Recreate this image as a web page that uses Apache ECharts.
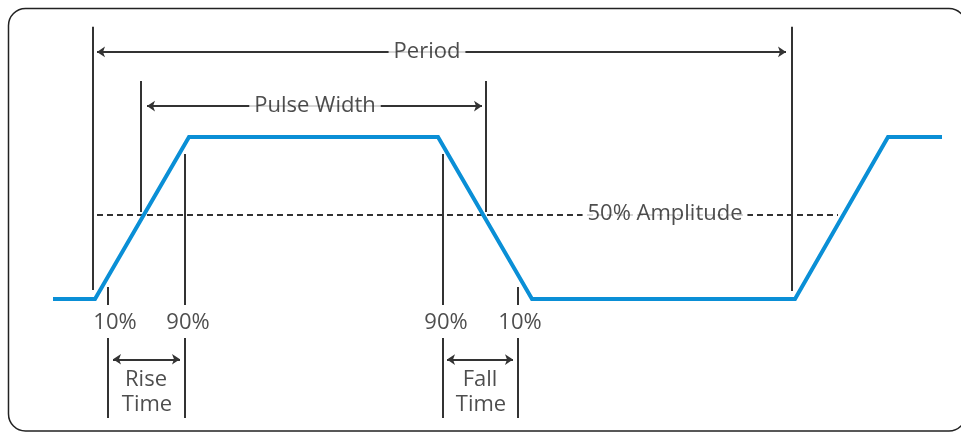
<!DOCTYPE html>
<html>
<head>
<meta charset="utf-8">
<script src="https://cdn.jsdelivr.net/npm/echarts@6/dist/echarts.min.js"></script>
<style>
html,body{margin:0;padding:0;background:#fff;}
#chart{width:961px;height:432px;}
</style>
</head>
<body>
<div id="chart"></div>
<script>
// Waveform: time (x) vs amplitude in % (y)
const waveTime  = [53, 95, 189, 438, 532, 795, 888, 942];
const waveLevel = [0, 0, 100, 100, 0, 0, 100, 100];

// Vertical marker segments
const markerX      = [93, 792, 141, 486, 108, 185, 443, 518, 108, 185, 443, 518];
const markerTop    = [168, 168, 134.6, 134.6, 7.4, 89.5, 89.5, 7.4, -24, -24, -24, -24];
const markerBottom = [5.5, 5, 53.7, 53.7, -3.7, -3.7, -3.7, -3.7, -73.5, -73.5, -73.5, -73.5];

// Double-headed dimension arrows
const arrowStart = [97, 147, 113, 447];
const arrowEnd   = [786, 482, 180, 513];
const arrowLevel = [152.5, 119.1, -37.2, -37.4];

// 50% amplitude reference (dashed)
const refStart = 97;
const refEnd = 838;
const refLevel = 51.9;

// Labels sitting on lines
const lineLabelText = ['Period', 'Pulse Width', '50% Amplitude'];
const lineLabelX    = [427, 315, 665];
const lineLabelY    = [152.5, 119.1, 52.5];

// Free labels
const labelText = ['10%', '90%', '90%', '10%', 'Rise', 'Time', 'Fall', 'Time'];
const labelX    = [115, 188, 446, 520, 146, 147, 480, 481];
const labelY    = [-14.5, -14.5, -14.5, -14.5, -49.8, -65.3, -50, -65.3];

const ink = '#333333';
const textInk = '#222222';
const font = '"Open Sans", "Noto Sans", sans-serif';

const chart = echarts.init(document.getElementById('chart'), null, {renderer: 'canvas'});

const markerData = markerX.map((x, i) => ({coords: [[x, markerTop[i]], [x, markerBottom[i]]]}));
const arrowData = arrowStart.map((x, i) => ({coords: [[x, arrowLevel[i]], [arrowEnd[i], arrowLevel[i]]]}));

chart.setOption({
  animation: false,
  backgroundColor: '#ffffff',
  grid: {left: 0, right: 0, top: 7.4, bottom: 3.4, containLabel: false},
  xAxis: {type: 'value', min: 0, max: 961, show: false},
  yAxis: {type: 'value', min: -80, max: 180, show: false},
  graphic: [{
    type: 'rect', z: 0, silent: true,
    shape: {x: 8.5, y: 8.5, width: 957.5, height: 422.5, r: 17},
    style: {fill: 'none', stroke: '#222222', lineWidth: 1.5}
  }],
  series: [
    {
      type: 'lines', coordinateSystem: 'cartesian2d', z: 2, silent: true,
      symbol: 'none',
      lineStyle: {color: ink, width: 2, opacity: 1, type: [6, 4]},
      data: [{coords: [[refStart, refLevel], [refEnd, refLevel]]}]
    },
    {
      type: 'lines', coordinateSystem: 'cartesian2d', z: 3, silent: true,
      symbol: 'none',
      lineStyle: {color: ink, width: 2, opacity: 1},
      data: markerData
    },
    {
      type: 'lines', coordinateSystem: 'cartesian2d', z: 3, silent: true,
      symbol: ['arrow', 'arrow'], symbolSize: 8,
      lineStyle: {color: ink, width: 2, opacity: 1},
      data: arrowData
    },
    {
      type: 'line', z: 4, silent: true,
      data: waveTime.map((t, i) => [t, waveLevel[i]]),
      symbol: 'none',
      lineStyle: {color: '#0a8fd6', width: 4, join: 'miter'}
    },
    {
      type: 'scatter', z: 6, silent: true, symbolSize: 0,
      data: lineLabelText.map((s, i) => ({name: s, value: [lineLabelX[i], lineLabelY[i]]})),
      label: {
        show: true, position: 'inside', formatter: '{b}',
        color: textInk, fontSize: 22, fontFamily: font,
        textBorderWidth: 0,
        backgroundColor: '#ffffff', padding: [0, 5]
      }
    },
    {
      type: 'scatter', z: 6, silent: true, symbolSize: 0,
      data: labelText.map((s, i) => ({name: s, value: [labelX[i], labelY[i]]})),
      label: {
        show: true, position: 'inside', formatter: '{b}',
        color: textInk, fontSize: 22, fontFamily: font, textBorderWidth: 0
      }
    }
  ]
});
</script>
</body>
</html>
